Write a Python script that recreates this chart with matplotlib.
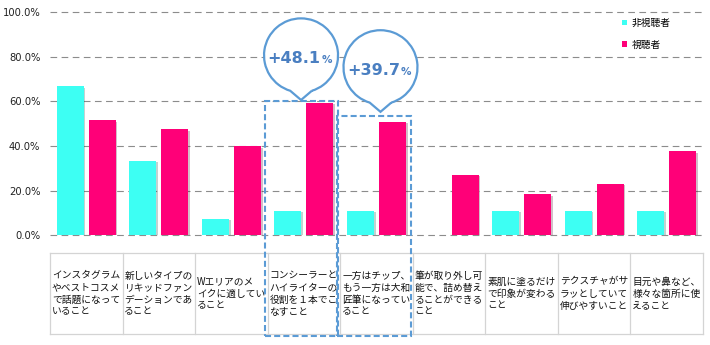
import matplotlib
matplotlib.use("Agg")
import matplotlib.pyplot as plt
import matplotlib.patheffects as pe
import matplotlib.transforms as mtransforms
from matplotlib.path import Path
from matplotlib.patches import PathPatch, Rectangle, Patch
import numpy as np

plt.rcParams['font.family'] = ['Noto Sans CJK JP', 'DejaVu Sans']

# ---------------- data ----------------
categories = [
    "インスタグラム\nやベストコスメ\nで話題になって\nいること",
    "新しいタイプの\nリキッドファン\nデーションであ\nること",
    "Wエリアのメ\nイクに適してい\nること",
    "コンシーラーと\nハイライターの\n役割を１本でこ\nなすこと",
    "一方はチップ、\nもう一方は大和\n匠筆になってい\nること",
    "筆が取り外し可\n能で、詰め替え\nることができる\nこと",
    "素肌に塗るだけ\nで印象が変わる\nこと",
    "テクスチャがサ\nラッとしていて\n伸びやすいこと",
    "目元や鼻など、\n様々な箇所に使\nえること",
]
non_viewers = [66.7, 33.3, 7.3, 11.1, 11.1, 0.0, 11.1, 11.1, 11.1]
viewers = [51.5, 47.5, 39.9, 59.2, 50.8, 27.0, 18.4, 23.0, 37.6]
series_names = ["非視聴者", "視聴者"]
yticks = [0, 20, 40, 60, 80, 100]
ytick_labels = ["0.0%", "20.0%", "40.0%", "60.0%", "80.0%", "100.0%"]
highlight_idx = [3, 4]
highlight_labels = ["+48.1", "+39.7"]

# ---------------- style ----------------
C_NON = "#3dfff3"
C_VIEW = "#ff0078"
C_BLUE = "#5b9bd5"
C_TEXT_BLUE = "#4a7fc1"

W, H = 710, 345
fig = plt.figure(figsize=(W / 100, H / 100), dpi=100)
ax_left, ax_right = 50, 703
y0_px, y100_px = 235.3, 12.0
ax = fig.add_axes([ax_left / W, (H - y0_px) / H, (ax_right - ax_left) / W, (y0_px - y100_px) / H])

n = len(categories)
x = np.arange(n)
bw = 0.372
off = 0.22
shadow = [pe.SimplePatchShadow(offset=(1.2, -1.0), alpha=0.25), pe.Normal()]
b1 = ax.bar(x - off, non_viewers, width=bw, color=C_NON, zorder=3)
b2 = ax.bar(x + off, viewers, width=bw, color=C_VIEW, zorder=3)
for b in list(b1) + list(b2):
    b.set_path_effects(shadow)

ax.set_xlim(-0.5, n - 0.5)
ax.set_ylim(0, 100)
ax.set_yticks(yticks)
ax.set_yticklabels(ytick_labels, family=['DejaVu Sans'], fontsize=7.2, color="#222222")
ax.tick_params(axis='y', length=0, pad=7)
ax.set_xticks([])
for s in ax.spines.values():
    s.set_visible(False)
ax.set_axisbelow(True)
ax.yaxis.grid(True, color="#8c8c8c", linewidth=0.8, linestyle=(0, (6, 4)))
for gl in ax.get_ygridlines():
    gl.set_clip_on(False)

# ---------------- table of category labels ----------------
px_per_pct = (y0_px - y100_px) / 100.0
def px2pct(py):
    return (y0_px - py) / px_per_pct

t_top = px2pct(253)
t_bot = px2pct(334)
grid_c = "#d4d4d4"
for i in range(n + 1):
    ax.plot([i - 0.5, i - 0.5], [t_top, t_bot], color=grid_c, lw=0.9, clip_on=False, zorder=1)
ax.plot([-0.5, n - 0.5], [t_top, t_top], color=grid_c, lw=0.9, clip_on=False, zorder=1)
ax.plot([-0.5, n - 0.5], [t_bot, t_bot], color=grid_c, lw=0.9, clip_on=False, zorder=1)
for i, lab in enumerate(categories):
    ax.text(i - 0.5 + 0.025, (t_top + t_bot) / 2, lab, ha='left', va='center',
            fontsize=7.0, linespacing=1.25, color="#111111", clip_on=False)

# ---------------- highlight boxes ----------------
box_gap = [1.1, 2.6]
box_bot = px2pct(335.5)
for k, i in enumerate(highlight_idx):
    top = viewers[i] + box_gap[k]
    r = Rectangle((i - 0.54, box_bot), 1.01, top - box_bot, fill=False,
                  edgecolor=C_BLUE, lw=1.5, linestyle=(0, (2.9, 1.5)), clip_on=False, zorder=4)
    ax.add_patch(r)

# ---------------- callouts ----------------
tips = [(2.96, 60.6), (4.055, 55.3)]
R = 37.0
CY = 44.6
th = 17.0
arc = Path.arc(-90 + th, 270 - th)
verts = [(R * vx, CY + R * vy) for vx, vy in arc.vertices]
codes = list(arc.codes)
verts += [(0.0, 0.0), verts[0]]
codes += [Path.LINETO, Path.LINETO]
bubble = Path(verts, codes)
for (tx, ty), lab in zip(tips, highlight_labels):
    tr = mtransforms.Affine2D() + mtransforms.ScaledTranslation(tx, ty, ax.transData)
    p = PathPatch(bubble, transform=tr, facecolor="white", edgecolor=C_BLUE, lw=1.6,
                  clip_on=False, zorder=5)
    ax.add_patch(p)
    ax.annotate(lab, xy=(tx, ty), xycoords='data', xytext=(19.5, 37.3), textcoords='offset pixels',
                ha='right', va='baseline', fontsize=11.5, fontweight='bold',
                family=['DejaVu Sans'], color=C_TEXT_BLUE, zorder=6, annotation_clip=False)
    ax.annotate("%", xy=(tx, ty), xycoords='data', xytext=(20.5, 37.3), textcoords='offset pixels',
                ha='left', va='baseline', fontsize=7.5, fontweight='bold',
                family=['DejaVu Sans'], color=C_TEXT_BLUE, zorder=6, annotation_clip=False)

# ---------------- legend ----------------
handles = [Patch(facecolor=C_NON, edgecolor='none'), Patch(facecolor=C_VIEW, edgecolor='none')]
leg = fig.legend(handles, series_names, loc='upper left',
                 bbox_to_anchor=(621.7 / W, (H - 18) / H), bbox_transform=fig.transFigure,
                 frameon=False, fontsize=7.0, handlelength=0.52, handleheight=0.52,
                 handletextpad=0.5, labelspacing=1.2, borderpad=0, borderaxespad=0)

fig.savefig("out.png", dpi=100)
